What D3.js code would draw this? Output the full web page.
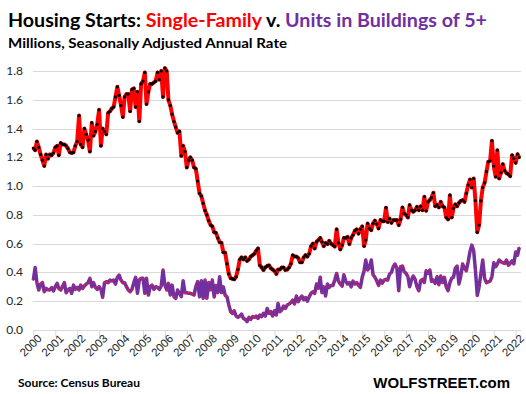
<!DOCTYPE html>
<meta charset="utf-8">
<style>
body { margin: 0; background: #fff; }
svg { display: block; font-family: Lato, "Open Sans", sans-serif; }
.grid line { stroke: #d9d9d9; }
.axis path, .axis line { stroke: #d9d9d9; }
.axis text { fill: #262626; font-size: 12px; }
</style>
<body>
<script src="https://cdn.jsdelivr.net/npm/d3@7"></script>
<script>

// monthly housing starts, millions SAAR, Jan 2000 - Mar 2022
var singleFamily = [
  1.265, 1.25, 1.31, 1.27, 1.22, 1.18, 1.14, 1.22, 1.19, 1.22, 1.215, 1.23,
  1.27, 1.28, 1.215, 1.30, 1.29, 1.29, 1.28, 1.26, 1.235, 1.23, 1.235, 1.28,
  1.31, 1.49, 1.29, 1.27, 1.40, 1.36, 1.32, 1.24, 1.44, 1.35, 1.38, 1.43,
  1.53, 1.28, 1.40, 1.38, 1.36, 1.51, 1.52, 1.54, 1.55, 1.62, 1.69, 1.63,
  1.56, 1.48, 1.62, 1.64, 1.64, 1.52, 1.67, 1.68, 1.55, 1.655, 1.45, 1.71,
  1.73, 1.79, 1.57, 1.655, 1.71, 1.71, 1.72, 1.73, 1.79, 1.74, 1.80, 1.62,
  1.82, 1.80, 1.60, 1.56, 1.50, 1.45, 1.41, 1.37, 1.38, 1.21, 1.28, 1.24,
  1.13, 1.18, 1.20, 1.18, 1.13, 1.12, 1.035, 0.95, 0.93, 0.88, 0.83, 0.80,
  0.76, 0.73, 0.72, 0.68, 0.675, 0.64, 0.61, 0.605, 0.54, 0.537, 0.46, 0.39,
  0.36, 0.355, 0.352, 0.37, 0.42, 0.49, 0.505, 0.49, 0.505, 0.48, 0.49, 0.51,
  0.52, 0.53, 0.55, 0.567, 0.45, 0.435, 0.417, 0.435, 0.445, 0.45, 0.43, 0.42,
  0.41, 0.39, 0.42, 0.42, 0.435, 0.435, 0.417, 0.42, 0.435, 0.46, 0.52, 0.51,
  0.51, 0.50, 0.47, 0.47, 0.505, 0.52, 0.51, 0.53, 0.583, 0.60, 0.567, 0.613,
  0.625, 0.64, 0.613, 0.583, 0.605, 0.597, 0.62, 0.60, 0.59, 0.58, 0.70, 0.605,
  0.56, 0.59, 0.64, 0.64, 0.647, 0.597, 0.64, 0.66, 0.69, 0.70, 0.67, 0.70,
  0.72, 0.583, 0.625, 0.74, 0.706, 0.694, 0.74, 0.76, 0.736, 0.706, 0.765, 0.756,
  0.756, 0.85, 0.75, 0.774, 0.745, 0.764, 0.764, 0.764, 0.729, 0.769, 0.852, 0.81,
  0.799, 0.782, 0.868, 0.833, 0.822, 0.833, 0.856, 0.833, 0.86, 0.833, 0.926, 0.828,
  0.891, 0.903, 0.921, 0.954, 0.86, 0.87, 0.852, 0.891, 0.86, 0.852, 0.782, 0.769,
  0.937, 0.782, 0.845, 0.874, 0.86, 0.884, 0.898, 0.903, 0.891, 0.95, 1.007, 1.046,
  0.99, 1.053, 0.90, 0.68, 0.729, 0.898, 0.99, 1.023, 1.10, 1.169, 1.176, 1.315,
  1.139, 1.065, 1.25, 1.053, 1.093, 1.153, 1.107, 1.09, 1.083, 1.069, 1.215, 1.192,
  1.162, 1.222, 1.199
];

var units5plus = [
  0.347, 0.435, 0.329, 0.278, 0.319, 0.329, 0.266, 0.289, 0.28, 0.278, 0.294, 0.271,
  0.301, 0.324, 0.289, 0.278, 0.301, 0.329, 0.259, 0.278, 0.289, 0.255, 0.312, 0.282,
  0.296, 0.278, 0.312, 0.289, 0.306, 0.319, 0.329, 0.359, 0.301, 0.329, 0.296, 0.282,
  0.301, 0.282, 0.227, 0.329, 0.336, 0.329, 0.347, 0.34, 0.347, 0.319, 0.366, 0.382,
  0.347, 0.329, 0.329, 0.301, 0.278, 0.266, 0.282, 0.329, 0.366, 0.255, 0.347, 0.36,
  0.359, 0.255, 0.359, 0.243, 0.301, 0.312, 0.282, 0.301, 0.296, 0.282, 0.306, 0.417,
  0.312, 0.278, 0.324, 0.243, 0.312, 0.231, 0.22, 0.278, 0.255, 0.231, 0.342, 0.259,
  0.259, 0.255, 0.255, 0.25, 0.243, 0.301, 0.336, 0.231, 0.342, 0.22, 0.347, 0.22,
  0.33, 0.28, 0.347, 0.23, 0.31, 0.26, 0.37, 0.26, 0.30, 0.24, 0.23, 0.174,
  0.127, 0.116, 0.134, 0.097, 0.088, 0.097, 0.111, 0.081, 0.074, 0.058, 0.088, 0.074,
  0.093, 0.088, 0.097, 0.081, 0.104, 0.093, 0.116, 0.097, 0.15, 0.116, 0.127, 0.097,
  0.134, 0.104, 0.185, 0.127, 0.139, 0.167, 0.15, 0.174, 0.181, 0.19, 0.208, 0.181,
  0.236, 0.197, 0.22, 0.236, 0.21, 0.226, 0.20, 0.23, 0.255, 0.266, 0.255, 0.32,
  0.29, 0.366, 0.26, 0.30, 0.236, 0.32, 0.296, 0.31, 0.31, 0.347, 0.393, 0.34,
  0.32, 0.305, 0.384, 0.34, 0.32, 0.33, 0.30, 0.34, 0.32, 0.33, 0.31, 0.296,
  0.366, 0.41, 0.486, 0.417, 0.435, 0.486, 0.384, 0.366, 0.34, 0.31, 0.347, 0.325,
  0.347, 0.352, 0.347, 0.389, 0.40, 0.44, 0.458, 0.43, 0.273, 0.44, 0.444, 0.405,
  0.394, 0.37, 0.30, 0.347, 0.375, 0.352, 0.30, 0.273, 0.342, 0.352, 0.33, 0.412,
  0.394, 0.417, 0.338, 0.347, 0.324, 0.37, 0.315, 0.375, 0.33, 0.366, 0.30, 0.273,
  0.33, 0.361, 0.366, 0.43, 0.444, 0.32, 0.375, 0.458, 0.43, 0.412, 0.474, 0.544,
  0.59, 0.55, 0.417, 0.24, 0.30, 0.394, 0.486, 0.359, 0.328, 0.335, 0.34, 0.37,
  0.467, 0.44, 0.458, 0.486, 0.475, 0.467, 0.463, 0.486, 0.45, 0.463, 0.48, 0.46,
  0.542, 0.52, 0.574
];

var yearLabels = d3.range(2000, 2023);
var yTicks = [0, 0.2, 0.4, 0.6, 0.8, 1.0, 1.2, 1.4, 1.6, 1.8];

var width = 526, height = 394;

var svg = d3.select("body").append("svg")
    .attr("width", width)
    .attr("height", height);

var monthDate = function(i) { return new Date(2000, i, 1); };

var x = d3.scaleTime()
    .domain([new Date(2000, 0, 1), new Date(2022, 0, 1)])
    .range([33.3, 515.7]);

var y = d3.scaleLinear()
    .domain([0, 1.8])
    .range([330, 71]);

// gridlines
svg.append("g")
    .attr("class", "grid")
  .selectAll("line")
    .data(yTicks.slice(1))
  .enter().append("line")
    .attr("x1", 33)
    .attr("x2", 521)
    .attr("y1", function(d) { return Math.round(y(d)) + 0.5; })
    .attr("y2", function(d) { return Math.round(y(d)) + 0.5; });

// y axis labels
svg.append("g")
  .selectAll("text")
    .data(yTicks)
  .enter().append("text")
    .attr("x", 23)
    .attr("y", function(d) { return y(d) + 4; })
    .attr("text-anchor", "end")
    .style("font-size", "12px")
    .style("fill", "#262626")
    .text(function(d) { return d3.format(".1f")(d); });

// x axis
var xAxis = svg.append("g")
    .attr("class", "axis")
    .attr("transform", "translate(0," + (Math.round(y(0)) + 0.5) + ")")
    .call(d3.axisBottom(x)
      .tickValues(yearLabels.map(function(yr) { return new Date(yr, 0, 1); }))
      .tickSize(6)
      .tickFormat(d3.timeFormat("%Y")));
xAxis.select(".domain").attr("d", "M33,0H521");
xAxis.selectAll("text")
    .attr("text-anchor", "end")
    .attr("transform", "translate(2,2) rotate(-45)")
    .attr("dy", "0.3em")
    .attr("y", 6)
    .attr("x", 0)
    .style("font-size", "11.5px");

var line = d3.line()
    .x(function(d, i) { return x(monthDate(i)); })
    .y(function(d) { return y(d); });

// units in buildings of 5+
svg.append("path")
    .datum(units5plus)
    .attr("fill", "none")
    .attr("stroke", "#7030a0")
    .attr("stroke-width", 3.5)
    .attr("stroke-linejoin", "round")
    .attr("d", line);
svg.append("g")
  .selectAll("circle")
    .data(units5plus)
  .enter().append("circle")
    .attr("cx", function(d, i) { return x(monthDate(i)); })
    .attr("cy", function(d) { return y(d); })
    .attr("r", 0.9)
    .attr("fill", "#e0204a");

// single-family
svg.append("path")
    .datum(singleFamily)
    .attr("fill", "none")
    .attr("stroke", "#ff0000")
    .attr("stroke-width", 4)
    .attr("stroke-linejoin", "round")
    .attr("d", line);
svg.append("g")
  .selectAll("circle")
    .data(singleFamily)
  .enter().append("circle")
    .attr("cx", function(d, i) { return x(monthDate(i)); })
    .attr("cy", function(d) { return y(d); })
    .attr("r", 1.6)
    .attr("fill", "#000");

// titles
var title = svg.append("text")
    .attr("x", 8)
    .attr("y", 27)
    .attr("textLength", 479)
    .attr("lengthAdjust", "spacingAndGlyphs")
    .style("font-size", "19px")
    .style("font-weight", "bold");
title.append("tspan").attr("fill", "#000").text("Housing Starts: ");
title.append("tspan").attr("fill", "#ff0000").text("Single-Family");
title.append("tspan").attr("fill", "#000").text(" v. ");
title.append("tspan").attr("fill", "#7030a0").text("Units in Buildings of 5+");

svg.append("text")
    .attr("x", 8)
    .attr("y", 48)
    .attr("textLength", 279)
    .attr("lengthAdjust", "spacingAndGlyphs")
    .style("font-size", "14px")
    .style("font-weight", "bold")
    .text("Millions, Seasonally Adjusted Annual Rate");

svg.append("text")
    .attr("x", 18)
    .attr("y", 387)
    .style("font-size", "12px")
    .style("font-weight", "bold")
    .text("Source: Census Bureau");

svg.append("text")
    .attr("x", 510)
    .attr("y", 388)
    .attr("text-anchor", "end")
    .style("font-size", "15px")
    .style("font-weight", "bold")
    .style("font-family", "'Liberation Sans', Arial, sans-serif")
    .text("WOLFSTREET.com");

</script>
</body>
